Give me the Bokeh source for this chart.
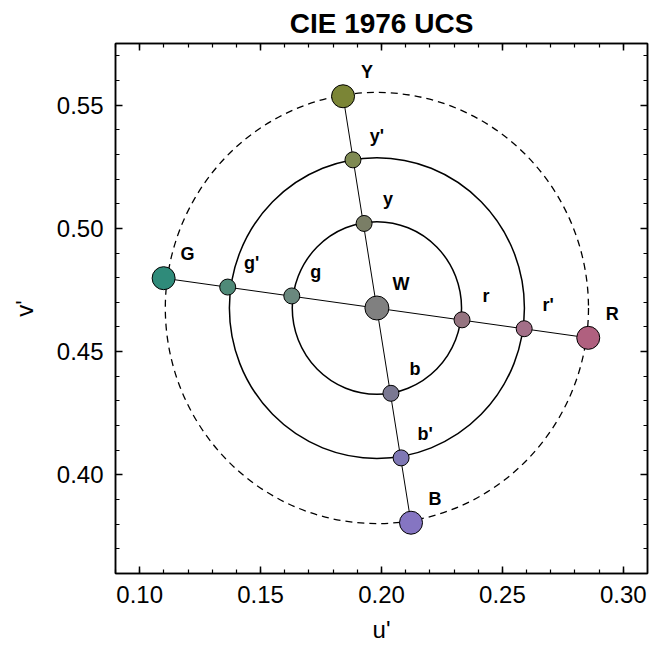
from bokeh.plotting import figure
from bokeh.models import (LinearAxis, SingleIntervalTicker, PrintfTickFormatter,
                          CustomJSTickFormatter, Range1d, ColumnDataSource)
from bokeh.embed import file_html
from bokeh.resources import INLINE
from bokeh.core.properties import value

# ---------------- data ----------------
title_text = "CIE 1976 UCS"
x_label = "u'"
y_label = "v'"

white_label = "W"
white_u = 0.1981
white_v = 0.4677
white_color = "#808080"

ring_radii_solid = [0.035, 0.061]
ring_radius_dashed = 0.0875

point_labels = ["Y", "y'", "y", "G", "g'", "g", "R", "r'", "r", "B", "b'", "b"]
point_u = [0.1841, 0.1882, 0.1928, 0.1099, 0.1364, 0.1629,
           0.2855, 0.2590, 0.2333, 0.2122, 0.2081, 0.2039]
point_v = [0.5536, 0.5278, 0.5020, 0.4798, 0.4762, 0.4726,
           0.4556, 0.4593, 0.4629, 0.3806, 0.4069, 0.4331]
point_colors = ["#7b8536", "#7f8a52", "#7a7e66",
                "#2f8b7a", "#4f8a78", "#6a887e",
                "#b0607f", "#a36f88", "#957480",
                "#8575c2", "#7f78b5", "#7a7892"]
point_big = [True, False, False, True, False, False,
             True, False, False, True, False, False]

x_ticks_interval = 0.05
y_ticks_interval = 0.05

FONT = "Liberation Sans"

# ---------------- figure ----------------
p = figure(width=660, height=652,
           x_range=Range1d(0.09, 0.31), y_range=Range1d(0.36, 0.575),
           output_backend="svg", toolbar_location=None,
           min_border_left=115, min_border_right=13,
           min_border_top=41, min_border_bottom=79,
           title=title_text, x_axis_label=x_label, y_axis_label=y_label)

p.background_fill_color = "white"
p.border_fill_color = "white"
p.grid.visible = False
p.outline_line_color = "black"
p.outline_line_width = 1.5

p.title.align = "center"
p.title.text_font = FONT
p.title.text_font_size = "28px"
p.title.text_font_style = "bold"
p.title.text_color = "black"

p.add_layout(LinearAxis(), "above")
p.add_layout(LinearAxis(), "right")

for ax in p.xaxis:
    ax.ticker = SingleIntervalTicker(interval=x_ticks_interval, num_minor_ticks=5)
for ax in p.yaxis:
    ax.ticker = SingleIntervalTicker(interval=y_ticks_interval, num_minor_ticks=5)

for ax in p.axis:
    ax.formatter = PrintfTickFormatter(format="%.2f")
    ax.axis_line_color = "black"
    ax.axis_line_width = 1.5
    ax.major_tick_in = 7
    ax.major_tick_out = 0
    ax.minor_tick_in = 4
    ax.minor_tick_out = 0
    ax.major_tick_line_color = "black"
    ax.major_tick_line_width = 1.5
    ax.minor_tick_line_color = "black"
    ax.minor_tick_line_width = 1.2
    ax.major_label_text_font = FONT
    ax.major_label_text_font_size = "24px"
    ax.major_label_text_color = "black"
    ax.axis_label_text_font = FONT
    ax.axis_label_text_font_size = "24px"
    ax.axis_label_text_font_style = "normal"
    ax.axis_label_text_color = "black"

# no labels on the top / right axes (ticks only)
for ax in (p.above[0], p.right[0]):
    ax.formatter = CustomJSTickFormatter(code="return ''")
    ax.major_label_standoff = 0
    ax.major_label_text_font_size = "10px"

p.below[0].major_label_standoff = 12
p.below[0].axis_label_standoff = 10
p.left[0].major_label_standoff = 12
p.left[0].axis_label_standoff = 16

# ---------------- rings ----------------
p.ellipse(x=[white_u] * len(ring_radii_solid), y=[white_v] * len(ring_radii_solid),
          width=[2 * r for r in ring_radii_solid], height=[2 * r for r in ring_radii_solid],
          fill_color=None, line_color="black", line_width=1.5)
p.ellipse(x=[white_u], y=[white_v],
          width=[2 * ring_radius_dashed], height=[2 * ring_radius_dashed],
          fill_color=None, line_color="black", line_width=1.3, line_dash="7 5")

# ---------------- axes lines through white ----------------
idx = {lab: i for i, lab in enumerate(point_labels)}
p.line(x=[point_u[idx["G"]], point_u[idx["R"]]], y=[point_v[idx["G"]], point_v[idx["R"]]],
       line_color="black", line_width=1)
p.line(x=[point_u[idx["Y"]], point_u[idx["B"]]], y=[point_v[idx["Y"]], point_v[idx["B"]]],
       line_color="black", line_width=1)

# ---------------- markers ----------------
src = ColumnDataSource(dict(
    u=point_u + [white_u],
    v=point_v + [white_v],
    lab=point_labels + [white_label],
    col=point_colors + [white_color],
    sz=[23 if b else 16 for b in point_big] + [24],
))
p.scatter(x="u", y="v", size="sz", fill_color="col", line_color="black",
          line_width=1, source=src)

p.text(x="u", y="v", text="lab", source=src, x_offset=24, y_offset=-24,
       text_font=value(FONT), text_font_style="bold", text_font_size="18px",
       text_align="center", text_baseline="middle", text_color="black")

open("out.html", "w").write(file_html(p, INLINE))
